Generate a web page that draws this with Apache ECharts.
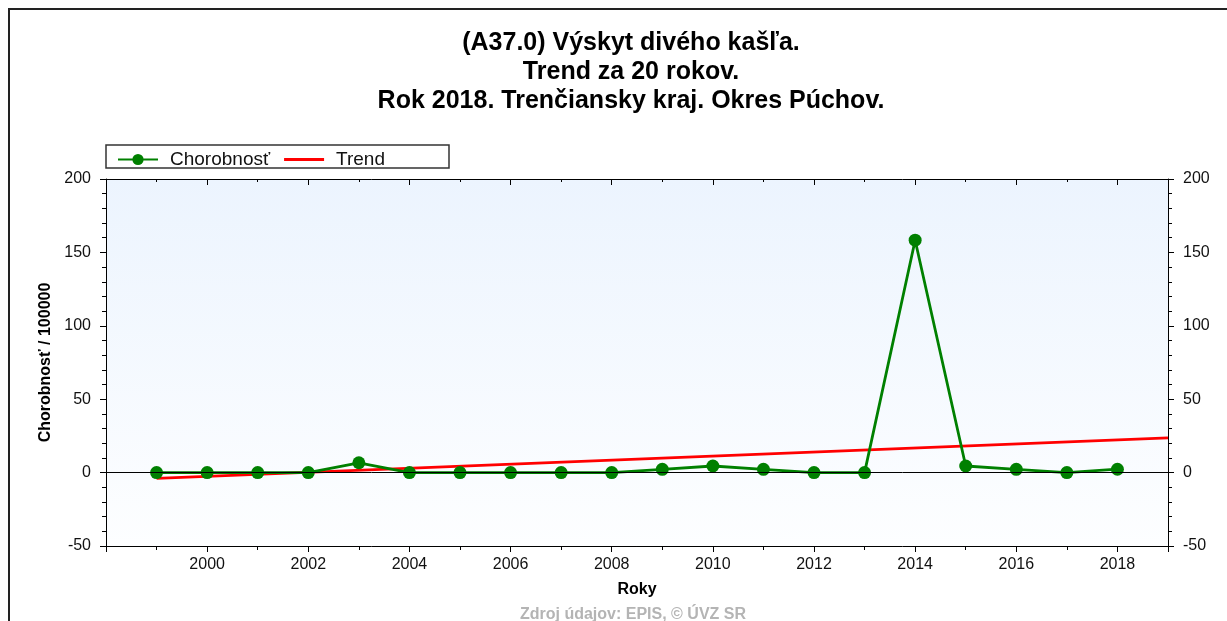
<!DOCTYPE html>
<html>
<head>
<meta charset="utf-8">
<script src="https://cdn.jsdelivr.net/npm/echarts@6/dist/echarts.min.js"></script>
<style>
  html, body { margin: 0; padding: 0; background: #fff; }
  #chart { width: 1227px; height: 621px; }
</style>
</head>
<body>
<div id="chart"></div>
<script>
// data
const years = [1999, 2000, 2001, 2002, 2003, 2004, 2005, 2006, 2007, 2008,
  2009, 2010, 2011, 2012, 2013, 2014, 2015, 2016, 2017, 2018];
const morbidity = [0, 0, 0, 0, 6.7, 0, 0, 0, 0, 0,
  2.2, 4.5, 2.2, 0, 0, 158.3, 4.5, 2.2, 0, 2.3];
const trendYears = [1999, 2019];
const trendValues = [-3.9, 23.6];
const titleLines = [
  "(A37.0) Výskyt divého kašľa.",
  "Trend za 20 rokov.",
  "Rok 2018. Trenčiansky kraj. Okres Púchov.",
];

const font = "'Liberation Sans', Arial, sans-serif";
const chart = echarts.init(document.getElementById("chart"));

const xBase = {
  type: "value",
  min: 1998,
  max: 2019,
  interval: 2,
  splitLine: { show: false },
  axisLine: { onZero: false, lineStyle: { color: "#000", width: 1 } },
  minorTick: { show: true, splitNumber: 2, length: 4, lineStyle: { color: "#000" } },
};
const yBase = {
  type: "value",
  min: -50,
  max: 200,
  interval: 50,
  splitLine: { show: false },
  axisLine: { show: true, onZero: false, lineStyle: { color: "#000", width: 1 } },
  axisTick: { show: true, length: 6, lineStyle: { color: "#000" } },
  minorTick: { show: true, splitNumber: 5, length: 4, lineStyle: { color: "#000" } },
  axisLabel: { color: "#111", fontFamily: font, fontSize: 16, margin: 15 },
};

chart.setOption({
  animation: false,
  title: {
    text: titleLines.join("\n"),
    left: 626,
    textAlign: "center",
    top: 24,
    textStyle: { fontFamily: font, fontSize: 25, fontWeight: "bold", color: "#000", lineHeight: 29 },
  },
  graphic: [
    { type: "rect", shape: { x: 9, y: 9, width: 1300, height: 700 }, style: { fill: null, stroke: "#222", lineWidth: 2 } },
    { type: "rect", shape: { x: 106, y: 145, width: 343, height: 23 }, style: { fill: "#fff", stroke: "#333", lineWidth: 1.5 }, z: 0 },
    {
      type: "text", x: 633, y: 607,
      style: { text: "Zdroj údajov: EPIS, © ÚVZ SR", fill: "#b4b4b4", font: "bold 16px " + font, align: "center" },
    },
  ],
  legend: {
    left: 112,
    top: 145,
    itemWidth: 40,
    itemHeight: 14,
    itemGap: 14,
    textStyle: { fontFamily: font, fontSize: 19, color: "#111", padding: [0, 0, 0, 7] },
    data: [
      { name: "Chorobnosť" },
      { name: "Trend", icon: "path://M0,0L40,0L40,3L0,3Z" },
    ],
    z: 5,
  },
  grid: {
    left: 106, right: 59, top: 179, bottom: 75,
    show: true,
    borderWidth: 0,
    backgroundColor: {
      type: "linear", x: 0, y: 0, x2: 0, y2: 1,
      colorStops: [{ offset: 0, color: "#ecf4fe" }, { offset: 1, color: "#fdfeff" }],
    },
  },
  xAxis: [
    Object.assign({}, xBase, {
      position: "bottom",
      name: "Roky",
      nameLocation: "middle",
      nameGap: 36,
      nameTextStyle: { fontFamily: font, fontSize: 16, fontWeight: "bold", color: "#000" },
      axisTick: { show: true, length: 6, lineStyle: { color: "#000" } },
      axisLabel: {
        color: "#111", fontFamily: font, fontSize: 16, margin: 11,
        showMinLabel: false, showMaxLabel: false,
        formatter: (v) => String(v),
      },
    }),
    Object.assign({}, xBase, {
      position: "top",
      axisTick: { show: true, inside: true, length: 6, lineStyle: { color: "#000" } },
      minorTick: { show: true, splitNumber: 2, length: 3, lineStyle: { color: "#000" } },
      axisLabel: { show: false },
    }),
  ],
  yAxis: [
    Object.assign({}, yBase, {
      position: "left",
      name: "Chorobnosť / 100000",
      nameLocation: "middle",
      nameGap: 48,
      nameTextStyle: { fontFamily: font, fontSize: 16, fontWeight: "bold", color: "#000" },
    }),
    Object.assign({}, yBase, { position: "right" }),
  ],
  series: [
    {
      name: "Chorobnosť",
      type: "line",
      data: years.map((y, i) => [y, morbidity[i]]),
      symbol: "circle",
      symbolSize: 13,
      lineStyle: { color: "#008000", width: 2.8 },
      itemStyle: { color: "#008000" },
      z: 4,
      markLine: {
        silent: true,
        symbol: "none",
        label: { show: false },
        lineStyle: { color: "#000", width: 1, type: "solid" },
        data: [{ yAxis: 0 }],
      },
    },
    {
      name: "Trend",
      type: "line",
      data: trendYears.map((y, i) => [y, trendValues[i]]),
      symbol: "none",
      lineStyle: { color: "#ff0000", width: 2.8 },
      itemStyle: { color: "#ff0000" },
      z: 3,
    },
  ],
});
</script>
</body>
</html>
